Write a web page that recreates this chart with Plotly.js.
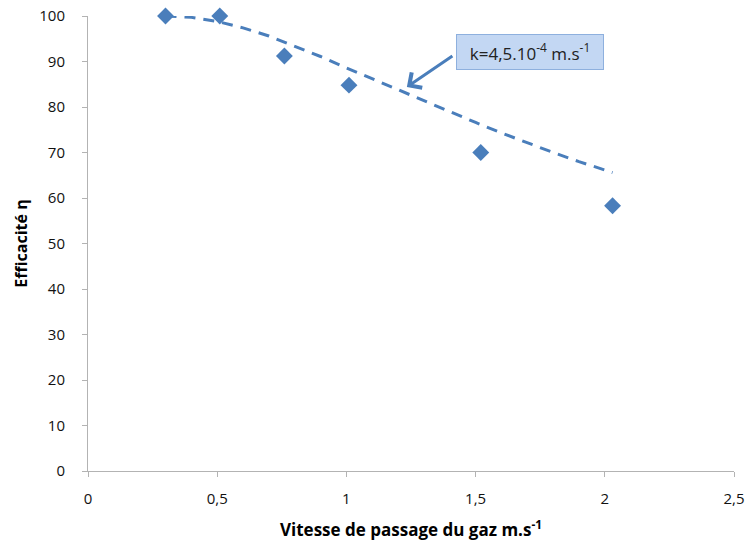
<!DOCTYPE html>
<html>
<head>
<meta charset="utf-8">
<script src="https://cdn.plot.ly/plotly-3.0.1.min.js"></script>
<style>html,body{margin:0;padding:0;background:#fff;}#chart{width:749px;height:541px;}</style>
</head>
<body>
<div id="chart"></div>
<script>
// Measured points
const vitesse = [0.3, 0.51, 0.76, 1.01, 1.52, 2.03];
const efficacite = [100, 100, 91.2, 84.8, 70, 58.3];
// Dashed model curve
const curveX = [0.3, 0.4, 0.5, 0.6, 0.7, 0.8, 0.9, 1.0, 1.1, 1.2, 1.3, 1.4, 1.5, 1.6, 1.7, 1.8, 1.9, 2.0, 2.03];
const curveY = [100, 99.7, 98.8, 97.4, 95.6, 93.4, 91.1, 88.6, 86.2, 83.8, 81.3, 79.0, 76.6, 74.3, 72.1, 70.0, 68.0, 66.1, 65.6];
const xTicks = [0, 0.5, 1, 1.5, 2, 2.5];
const xTickText = ['0', '0,5', '1', '1,5', '2', '2,5'];
const yTicks = [0, 10, 20, 30, 40, 50, 60, 70, 80, 90, 100];

const FONT = '"Open Sans", Lato, sans-serif';
const blue = '#4a7ebb';

const traces = [
  {x: curveX, y: curveY, type: 'scatter', mode: 'lines', line: {color: blue, width: 3, dash: '11px,8px', shape: 'linear'}, hoverinfo: 'skip', cliponaxis: false},
  {x: vitesse, y: efficacite, type: 'scatter', mode: 'markers', marker: {symbol: 'diamond', size: 13, color: blue}, cliponaxis: false}
];

const layout = {
  width: 749, height: 541,
  margin: {l: 88, r: 15, t: 16, b: 70},
  showlegend: false,
  paper_bgcolor: '#fff', plot_bgcolor: '#fff',
  font: {family: FONT, size: 15, color: '#1a1a1a'},
  xaxis: {
    range: [0, 2.5], tickvals: xTicks, ticktext: xTickText,
    showgrid: false, zeroline: false, showline: true, linecolor: '#b3b3b3', linewidth: 1,
    ticks: 'outside', ticklen: 5, tickcolor: '#b3b3b3', ticklabelstandoff: 9,
    tickfont: {family: FONT, size: 15, color: '#111'},
    title: {text: '<b>Vitesse de passage du gaz m.s<sup>-1</sup></b>', font: {family: FONT, size: 17, color: '#000'}, standoff: 17}
  },
  yaxis: {
    range: [0, 100], tickvals: yTicks,
    showgrid: false, zeroline: false, showline: true, linecolor: '#b3b3b3', linewidth: 1,
    ticks: 'outside', ticklen: 5, tickcolor: '#b3b3b3', ticklabelstandoff: 14,
    tickfont: {family: FONT, size: 15, color: '#111'},
    title: {text: '<b>Efficacité η</b>', font: {family: FONT, size: 16, color: '#000'}, standoff: 7}
  },
  annotations: [
    {x: 1.234, y: 84.4, xref: 'x', yref: 'y', text: '\u200b', showarrow: true, ax: 47, ay: -32,
     arrowcolor: blue, arrowwidth: 3, arrowhead: 4, arrowsize: 1.2, standoff: 0, startstandoff: 0,
     font: {size: 2}},
    {x: 0, y: 0, xref: 'paper', yref: 'paper', xanchor: 'center', yanchor: 'middle',
     text: 'k=4,5.10<sup>-4</sup> m.s<sup>-1</sup>', showarrow: false,
     font: {family: FONT, size: 17, color: '#222'}, bgcolor: '#c3d7f3', bordercolor: '#8eb0de', borderwidth: 1,
     borderpad: 5, width: 136, height: 24}
  ]
};
// convert the label box pixel centre to paper coordinates
const pw = 749 - 88 - 15, ph = 541 - 16 - 70;
layout.annotations[1].x = (530 - 88) / pw;
layout.annotations[1].y = (541 - 70 - 52) / ph;

Plotly.newPlot('chart', traces, layout, {displayModeBar: false, staticPlot: true});
</script>
</body>
</html>
